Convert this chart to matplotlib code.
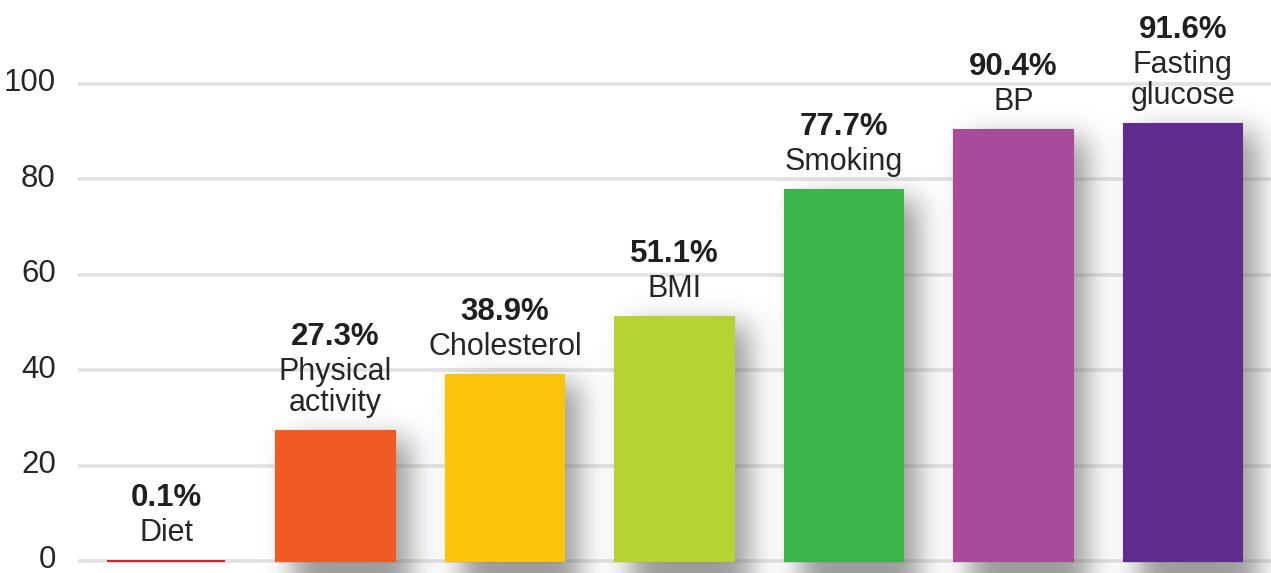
import numpy as np
import matplotlib
matplotlib.use("Agg")
import matplotlib.pyplot as plt
from matplotlib.transforms import ScaledTranslation

# ── Data ──────────────────────────────────────────────────────────────────────
categories = ["Diet", "Physical\nactivity", "Cholesterol", "BMI", "Smoking", "BP",
              "Fasting\nglucose"]
values = [0.1, 27.3, 38.9, 51.1, 77.7, 90.4, 91.6]
colors = ["#e31e24", "#f15a22", "#fcc30b", "#b5d334", "#3bb54a", "#a94a9a", "#5e2c8f"]
yticks = [0, 20, 40, 60, 80, 100]

plt.rcParams["font.family"] = ["Liberation Sans", "DejaVu Sans"]

W, H, DPI = 1271, 573, 100
fig = plt.figure(figsize=(W / DPI, H / DPI), dpi=DPI)
left_px = 78
ax = fig.add_axes([left_px / W, 0, 1 - left_px / W, 1])

XLO, XHI = -0.52, 6.52
YLO, YHI = -2.5, 117.6
ax.set_xlim(XLO, XHI)
ax.set_ylim(YLO, YHI)

x = np.arange(len(values))
bar_w = 0.70

# ── Soft drop shadow behind each bar (blurred mask in pixel space) ────────────
ax_w, ax_h = W - left_px, H
xs = np.linspace(XLO, XHI, ax_w)
ys = np.linspace(YHI, YLO, ax_h)
px_x = (XHI - XLO) / ax_w
px_y = (YHI - YLO) / ax_h
mask = np.zeros((ax_h, ax_w))
off_x, off_y = 16 * px_x, 6 * px_y
for xi, v in zip(x, values):
    if v < 1:
        continue  # a sliver casts no visible shadow
    inx = (xs >= xi - bar_w / 2 + off_x) & (xs <= xi + bar_w / 2 + off_x)
    iny = (ys >= YLO) & (ys <= v - off_y - 2 * px_y)
    mask[np.ix_(iny, inx)] = 1.0

sigma = 14
k = np.arange(-3 * sigma, 3 * sigma + 1)
kern = np.exp(-k ** 2 / (2 * sigma ** 2))
kern /= kern.sum()
pad = 3 * sigma
padded = np.pad(mask, pad, mode="edge")
blur = np.apply_along_axis(lambda r: np.convolve(r, kern, mode="same"), 1, padded)
blur = np.apply_along_axis(lambda c: np.convolve(c, kern, mode="same"), 0, blur)
blur = blur[pad:-pad, pad:-pad]

shadow = np.zeros((ax_h, ax_w, 4))
shadow[..., :3] = 0.38
shadow[..., 3] = np.clip(blur * 0.62, 0, 1)
ax.imshow(shadow, extent=(XLO, XHI, YLO, YHI), aspect="auto", zorder=2,
          interpolation="bilinear")

# ── Grid, bars and labels ─────────────────────────────────────────────────────
for t in yticks:
    ax.axhline(t, color="#e2e2e2", linewidth=2.6, zorder=1)

ax.bar(x, values, width=bar_w, color=colors, edgecolor=colors, linewidth=1.5, zorder=3)

for xi, v, cat in zip(x, values, categories):
    lines = cat.split("\n")
    offs = 20
    for line in reversed(lines):
        ax.annotate(line, (xi, v), xytext=(0, offs * 0.72), textcoords="offset points",
                    ha="center", va="baseline", fontsize=22, color="#262626", zorder=4)
        offs += 31
    ax.annotate(f"{v:.1f}%", (xi, v), xytext=(0, (offs + 4) * 0.72),
                textcoords="offset points", ha="center", va="baseline",
                fontsize=22.5, fontweight="bold", color="#231f20", zorder=4)

ax.set_yticks(yticks)
ax.set_yticklabels([str(t) for t in yticks])
ax.set_xticks([])
ax.tick_params(axis="y", length=0, pad=16, labelsize=22.5, labelcolor="#262626")
lift = ScaledTranslation(0, 3 / 72, fig.dpi_scale_trans)
for lbl in ax.get_yticklabels():
    lbl.set_transform(lbl.get_transform() + lift)
for s in ax.spines.values():
    s.set_visible(False)

fig.savefig("out.png", dpi=DPI)
